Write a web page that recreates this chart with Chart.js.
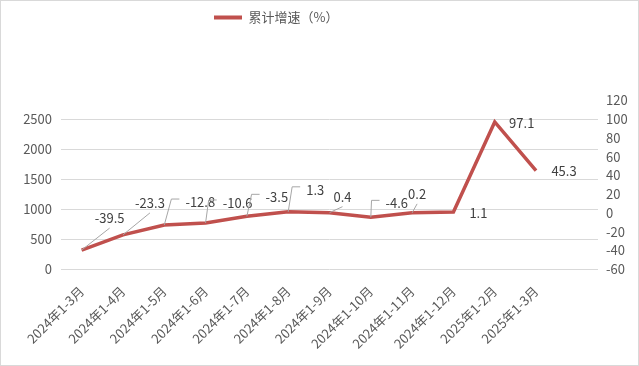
<!DOCTYPE html>
<html>
<head>
<meta charset="utf-8">
<script src="https://cdn.jsdelivr.net/npm/chart.js@4.4.1/dist/chart.umd.min.js"></script>
<style>
  body { margin: 0; background: #fff; }
  #wrap { width: 637px; height: 364px; border: 1px solid #d9d9d9; }
</style>
</head>
<body>
<div id="wrap"><canvas id="growthChart" width="637" height="364"></canvas></div>
<script>
// categories (last one is an empty slot, the original plot keeps room for it)
const months = ['2024年1-3月', '2024年1-4月', '2024年1-5月', '2024年1-6月', '2024年1-7月', '2024年1-8月',
  '2024年1-9月', '2024年1-10月', '2024年1-11月', '2024年1-12月', '2025年1-2月', '2025年1-3月', ''];
const growth = [-39.5, -23.3, -12.8, -10.6, -3.5, 1.3, 0.4, -4.6, 0.2, 1.1, 97.1, 45.3];
const leftTicks = [0, 500, 1000, 1500, 2000, 2500];
const rightTicks = [-60, -40, -20, 0, 20, 40, 60, 80, 100, 120];

// label offset from its point: dx, dy, leader type
const labelPlacement = [
  [28, -32, 'straight'], [27, -32, 'straight'], [36, -23, 'elbow'], [32, -20, 'elbow'],
  [30, -19, 'elbow'], [27, -22, 'elbow'], [13, -16, 'straight'], [26, -14, 'elbow'],
  [5, -19, 'straight'], [25, 1, 'none'], [27, 1, 'none'], [28, 1, 'none']
];

const FONT = '"Noto Sans CJK SC", "Noto Sans", sans-serif';
const red = '#c0504d';
const grey = '#595959';

const pointLabels = {
  id: 'pointLabels',
  afterDatasetsDraw(chart) {
    const ctx = chart.ctx;
    const meta = chart.getDatasetMeta(0);
    ctx.save();
    ctx.font = '13px ' + FONT;
    ctx.textAlign = 'center';
    ctx.textBaseline = 'middle';
    ctx.strokeStyle = '#a6a6a6';
    ctx.lineWidth = 1;
    meta.data.forEach((pt, i) => {
      const [dx, dy, kind] = labelPlacement[i];
      const text = String(growth[i]);
      const cx = pt.x + dx, cy = pt.y + dy;
      const half = ctx.measureText(text).width / 2;
      if (kind !== 'none') {
        ctx.beginPath();
        ctx.moveTo(pt.x, pt.y);
        if (kind === 'straight') {
          ctx.lineTo(cx, cy + 10);
        } else {
          ctx.lineTo(cx - half - 14, cy - 3);
          ctx.lineTo(cx - half - 6, cy - 3);
        }
        ctx.stroke();
      }
      ctx.fillStyle = '#404040';
      ctx.fillText(text, cx, cy);
    });
    ctx.restore();
  }
};

// legend sits left of centre and leaves a tall gap above the plot
const legendSpot = {
  id: 'legendSpot',
  afterInit(chart) {
    const fit = chart.legend.fit;
    chart.legend.fit = function () { fit.call(this); this.height = 99.5; };
  },
  afterLayout(chart) {
    chart.legend.left = 203;
  }
};

new Chart(document.getElementById('growthChart'), {
  type: 'line',
  data: {
    labels: months,
    datasets: [{
      label: '累计增速（%）',
      data: growth,
      yAxisID: 'y1',
      borderColor: red,
      backgroundColor: red,
      borderWidth: 3.5,
      pointRadius: 0,
      tension: 0
    }]
  },
  options: {
    responsive: false,
    animation: false,
    devicePixelRatio: 1,
    layout: { padding: 0 },
    plugins: {
      tooltip: { enabled: false },
      legend: {
        position: 'top',
        align: 'start',
        labels: {
          boxWidth: 28,
          boxHeight: 4,
          padding: 10,
          color: grey,
          font: { family: FONT, size: 13 },
          generateLabels: chart => [{
            text: chart.data.datasets[0].label,
            fillStyle: red, strokeStyle: red, lineWidth: 0, hidden: false, datasetIndex: 0,
            fontColor: grey
          }]
        }
      }
    },
    scales: {
      x: {
        offset: true,
        grid: { display: false },
        border: { display: false },
        ticks: {
          color: grey, font: { family: FONT, size: 13 },
          minRotation: 45, maxRotation: 45, autoSkip: false, padding: 6
        },
        afterFit: s => { s.height = 95.7; }
      },
      y: {
        position: 'left',
        min: 0,
        max: 2812.5, // 2500 lines up with 100 on the right axis
        grid: { color: '#d9d9d9', lineWidth: 1, drawTicks: false },
        border: { display: false },
        ticks: { color: grey, font: { family: FONT, size: 13 }, padding: 9, callback: v => String(v) },
        afterBuildTicks: s => { s.ticks = leftTicks.map(v => ({ value: v })); },
        afterFit: s => { s.width = 60; }
      },
      y1: {
        position: 'right',
        min: rightTicks[0],
        max: rightTicks[rightTicks.length - 1],
        grid: { display: false, drawTicks: false },
        border: { display: false },
        ticks: { stepSize: 20, color: grey, font: { family: FONT, size: 13 }, padding: 8, callback: v => String(v) },
        afterFit: s => { s.width = 40; }
      }
    }
  },
  plugins: [pointLabels, legendSpot]
});
</script>
</body>
</html>
